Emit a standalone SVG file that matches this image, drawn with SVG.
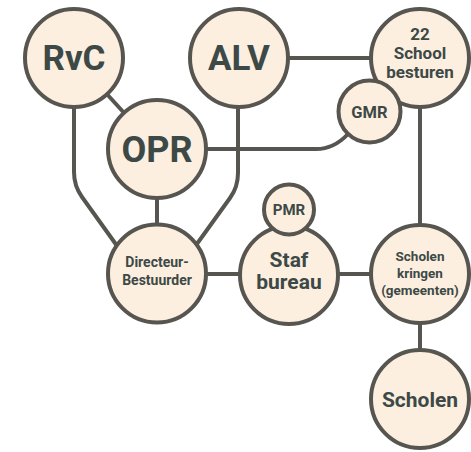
<svg xmlns="http://www.w3.org/2000/svg" width="471" height="452" viewBox="0 0 471 452">
<style>
.c{fill:#fcefe0;stroke:#57554f;stroke-width:4}
.l{fill:none;stroke:#57554f;stroke-width:4}
text{font-family:Roboto,"Liberation Sans",sans-serif;font-weight:700;fill:#3d4946;text-anchor:middle}
</style>
<rect width="471" height="452" fill="#fff"/>
<g id="connectors">
<line class="l" x1="74" y1="58" x2="157" y2="149"/>
<line class="l" x1="239" y1="58" x2="420" y2="58"/>
<line class="l" x1="420" y1="58" x2="420" y2="399"/>
<line class="l" x1="157" y1="274" x2="420" y2="274"/>
<line class="l" x1="157" y1="149" x2="157" y2="273"/>
<path class="l" d="M74,100 L74,172 Q74,186 82,197 L120,250"/>
<path class="l" d="M238,100 L238,173 Q238,187 230,198 L194,248"/>
<path class="l" d="M200,149 L316,149 Q334,149 348,134"/>
</g>
<g id="rvc"><circle class="c" cx="74" cy="58" r="49"/><text x="74" y="70" font-size="35">RvC</text></g>
<g id="alv"><circle class="c" cx="239" cy="58" r="49"/><text x="239" y="70" font-size="35">ALV</text></g>
<g id="schoolbesturen"><circle class="c" cx="420" cy="58" r="49"/><text x="420" y="40" font-size="17">22</text><text x="420" y="59" font-size="17">School</text><text x="420" y="78" font-size="17">besturen</text></g>
<g id="gmr"><circle class="c" cx="369.5" cy="111.5" r="31"/><text x="369.5" y="117.5" font-size="16.5">GMR</text></g>
<g id="opr"><circle class="c" cx="157" cy="149" r="49"/><text x="157" y="162" font-size="36">OPR</text></g>
<g id="directeur"><circle class="c" cx="157" cy="273.5" r="49"/><text x="157" y="267" font-size="14">Directeur-</text><text x="157" y="284.5" font-size="14">Bestuurder</text></g>
<g id="stafbureau"><circle class="c" cx="289" cy="275" r="49"/><text x="289" y="267" font-size="21">Staf</text><text x="289" y="289" font-size="21">bureau</text></g>
<g id="pmr"><circle class="c" cx="289" cy="209.5" r="25"/><text x="289" y="215" font-size="15">PMR</text></g>
<g id="scholenkringen"><circle class="c" cx="420" cy="274" r="49"/><text x="420" y="261" font-size="13.5">Scholen</text><text x="420" y="278" font-size="13.5">kringen</text><text x="420" y="295" font-size="13.5">(gemeenten)</text></g>
<g id="scholen"><circle class="c" cx="420" cy="399" r="49"/><text x="420" y="407" font-size="21">Scholen</text></g>
</svg>
